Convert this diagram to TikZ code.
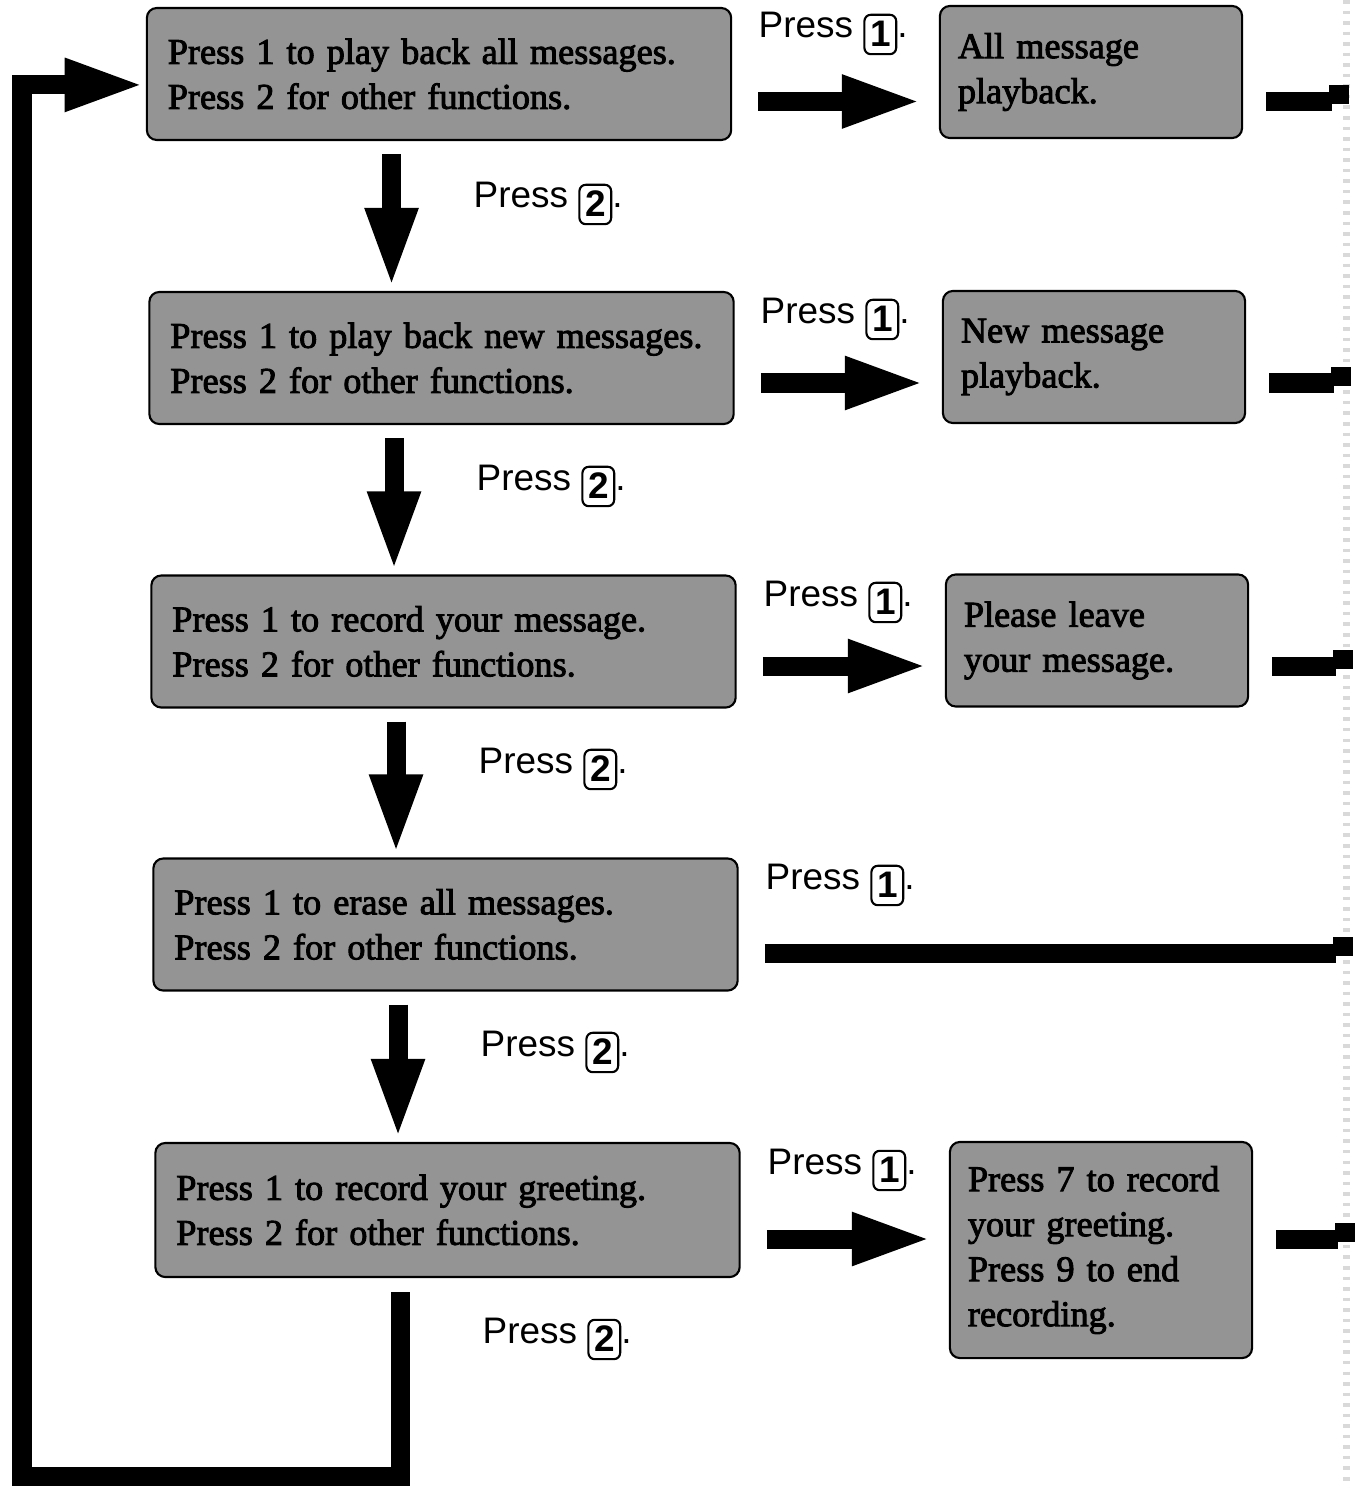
\documentclass[tikz,border=0pt]{standalone}
\usepackage{fontspec}
\setmainfont{Liberation Serif}
\newfontfamily\boxfont{Liberation Serif}[FakeBold=2.5]
\newfontfamily\keyfont{Liberation Sans}
\usetikzlibrary{arrows.meta,calc}

\tikzset{
  menubox/.style={draw, line width=0.6pt, rounded corners=0.1cm, fill=black!42,
    minimum width=5.84cm, minimum height=1.32cm, text width=5.42cm, inner xsep=0pt,
    align=left, font=\boxfont\fontsize{10.3}{12.8}\selectfont},
  ansbox/.style={menubox, minimum width=3.02cm, text width=2.66cm},
  keylabel/.style={anchor=base west, inner xsep=0pt, font=\keyfont\fontsize{10.5}{12}\selectfont},
  keycapbox/.style={draw, line width=0.6pt, rounded corners=1.8pt, inner xsep=1.6pt,
    inner ysep=1.5pt, text height=7.6pt, text depth=0.6pt,
    font=\keyfont\bfseries\fontsize{10.5}{12}\selectfont},
  bigarrow/.style={line width=0.19cm, line join=miter, -{Triangle[length=0.8cm,width=0.48cm]}},
  stub/.style={line width=0.19cm}
}
\newcommand{\keycap}[1]{\tikz[baseline={([yshift=2.5pt]k.base)}]\node[keycapbox] (k) {#1};}

\begin{document}
\begin{tikzpicture}[x=0.01cm, y=-0.01cm]
  \useasboundingbox (0,0) rectangle (1357,1488);
  % page edge
  \draw[black!15, line width=2pt, dash pattern=on 1pt off 2pt] (1346,0) -- (1346,1488);

  % menu
  \node (m1) at (439,74) [menubox] {Press 1 to play back all messages.\\Press 2 for other functions.};
  \node (m2) at (441.5,358) [menubox] {Press 1 to play back new messages.\\Press 2 for other functions.};
  \node (m3) at (443.5,641.5) [menubox] {Press 1 to record your message.\\Press 2 for other functions.};
  \node (m4) at (445.5,924.5) [menubox] {Press 1 to erase all messages.\\Press 2 for other functions.};
  \node (m5) at (447.5,1210) [menubox, minimum height=1.34cm] {Press 1 to record your greeting.\\Press 2 for other functions.};

  % answers
  \node (p1) at (1091,72) [ansbox] {All message\\playback.};
  \node (p2) at (1094,357) [ansbox] {New message\\playback.};
  \node (p3) at (1097,640.5) [ansbox] {Please leave\\your message.};
  \node (p5) at (1101,1250) [ansbox, minimum height=2.16cm] {Press 7 to record\\your greeting.\\Press 9 to end\\recording.};

  % key labels
  \foreach \i/\x/\y in {1/758/38, 2/760/323, 3/763/606, 4/765/889, 5/767/1174}
    \node (a\i) at (\x,\y) [keylabel] {Press \keycap{1}.};
  \foreach \i/\x/\y in {1/473/208, 2/476/490, 3/478/773, 4/480/1056, 5/482/1343}
    \node (b\i) at (\x,\y) [keylabel] {Press \keycap{2}.};

  % right edge
  \coordinate (e1) at (1332,101.5);
  \coordinate (e2) at (1334,383);
  \coordinate (e3) at (1336,666);
  \coordinate (e4) at (1336,953);
  \coordinate (e5) at (1338,1239);
  \foreach \r in {1,...,5}
    \fill ($(e\r)+(-3,-16.5)$) rectangle ++(20,19);

  % press 1
  \foreach \r in {1,2,3,5} {
    \draw[bigarrow, shorten <=0.26cm, shorten >=0.17cm] (m\r.east |- e\r) -- (p\r.west |- e\r);
    \draw[stub, shorten <=0.23cm] (p\r.east |- e\r) -- (e\r);
  }
  \draw[stub, shorten <=0.26cm] (m4.east |- e4) -- (e4);

  % press 2
  \foreach \a/\b in {m1/m2, m2/m3, m3/m4, m4/m5}
    \draw[bigarrow, shorten <=0.13cm, shorten >=0.03cm] ([xshift=-13.5pt]\a.south) -- ([xshift=-13.5pt]\a.south |- \b.north);

  % back to start
  \coordinate (c1) at (22,1476);
  \draw[bigarrow, shorten <=0.14cm, shorten >=0.01cm] ([xshift=-13.5pt]m5.south) |- (c1) |- ([yshift=-3.1pt]m1.west);
\end{tikzpicture}
\end{document}
